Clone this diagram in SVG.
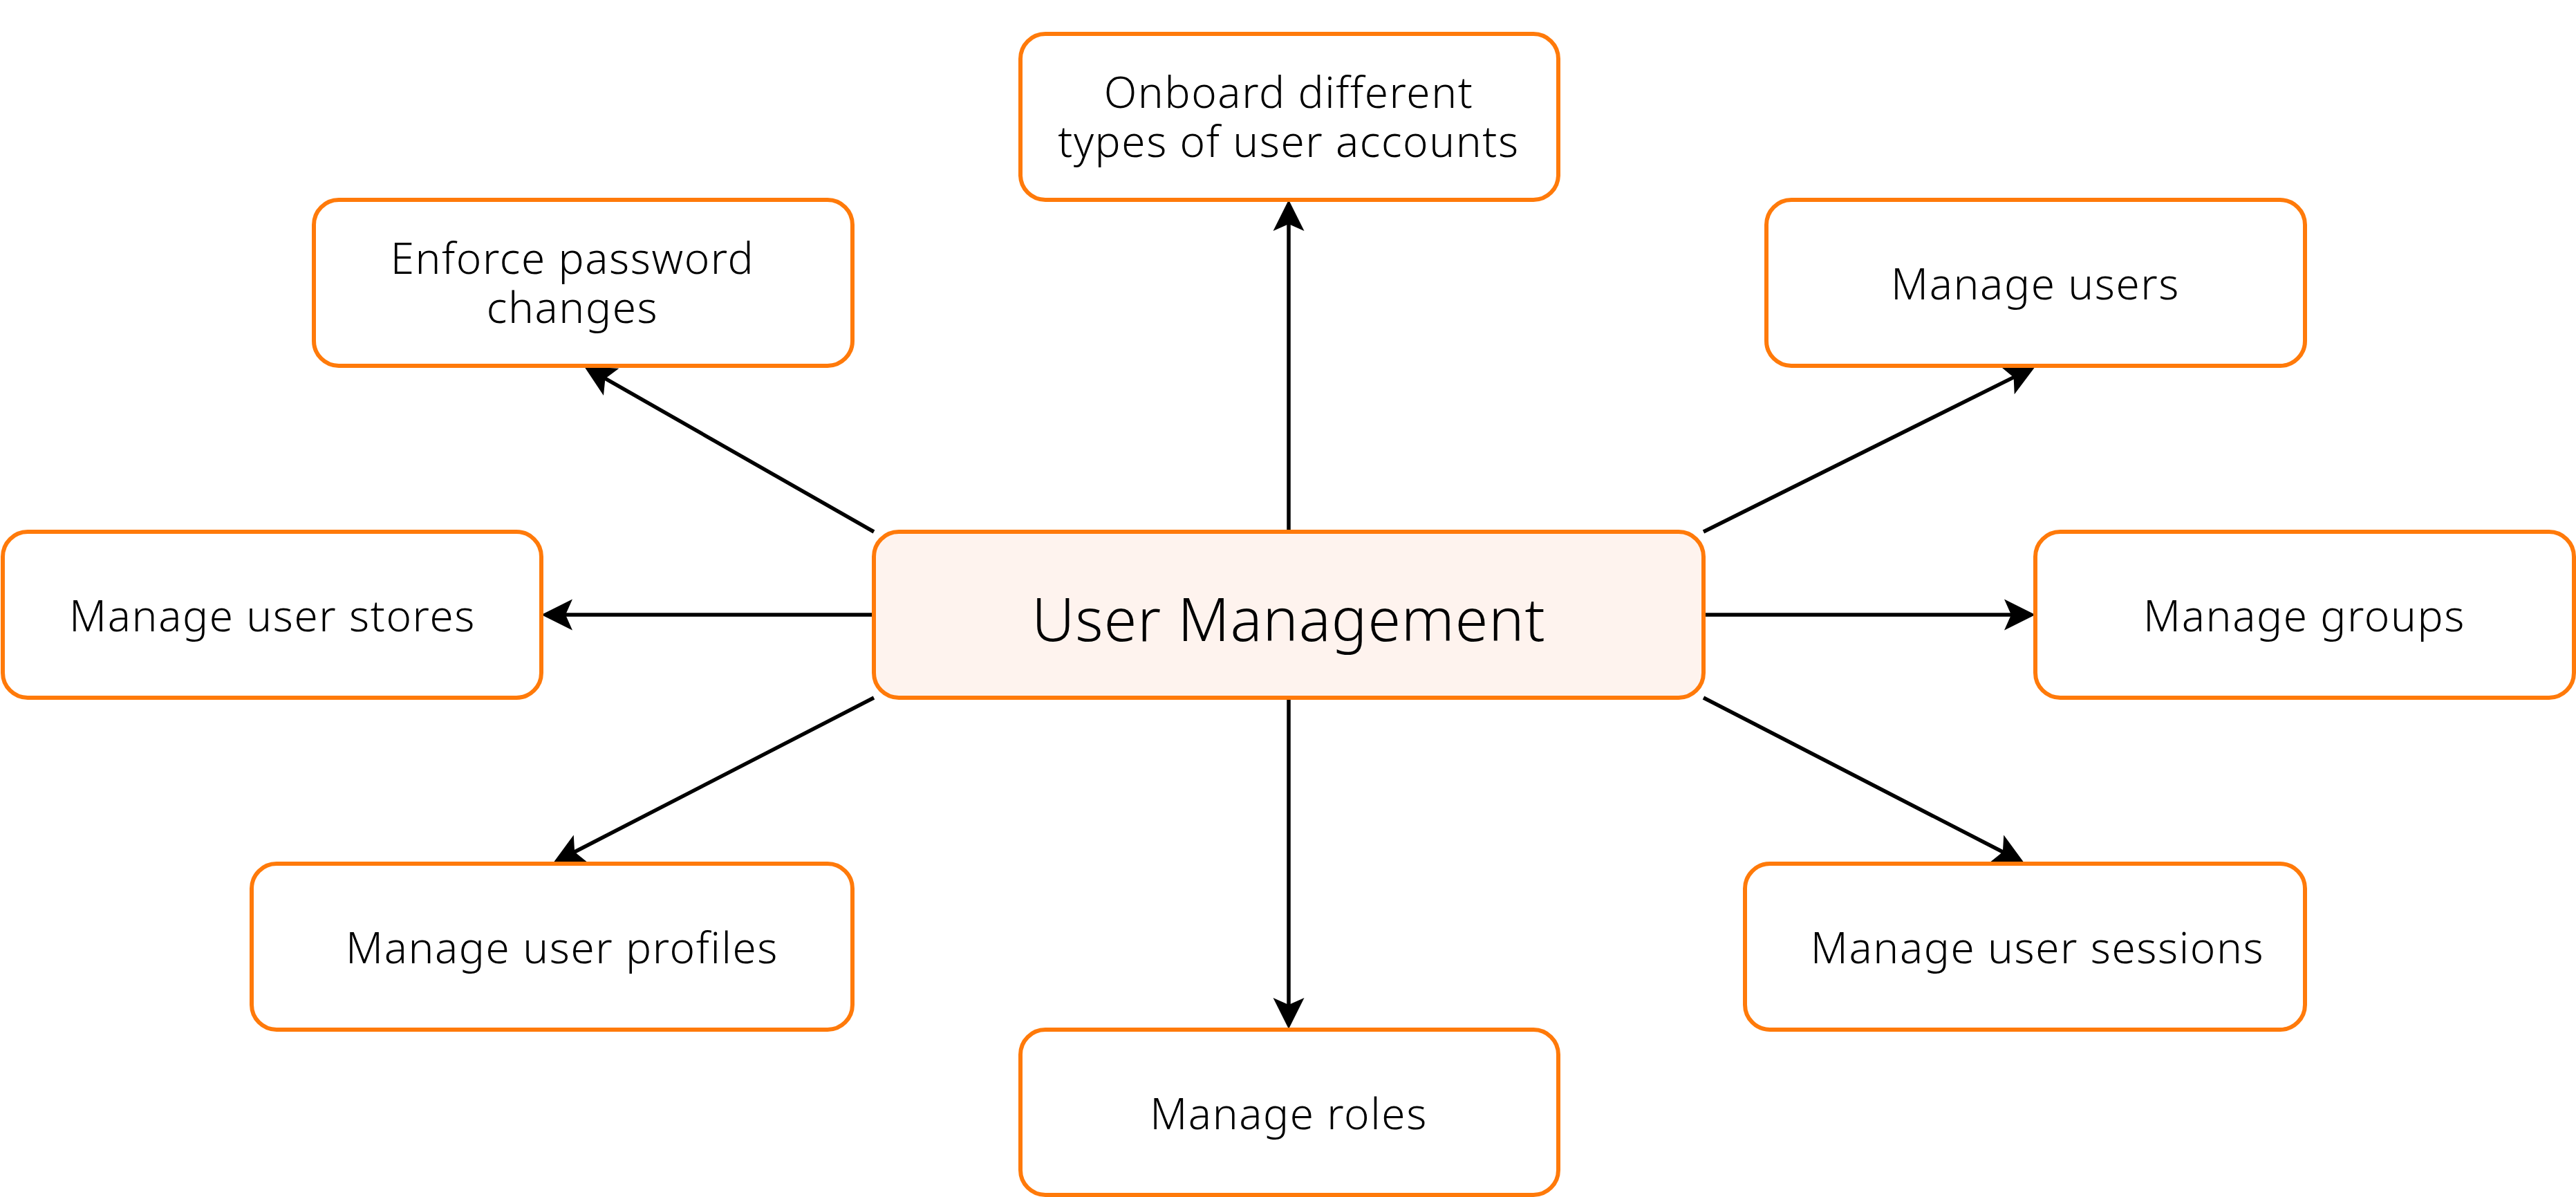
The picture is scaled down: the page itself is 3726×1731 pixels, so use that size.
<svg xmlns="http://www.w3.org/2000/svg" width="3726" height="1731" viewBox="0 0 3726 1731">
<style>
.box{fill:#ffffff;stroke:#ff7a0a;stroke-width:6}
.main{fill:#fef3ee}
.lbl{font-family:"Noto Sans","Liberation Sans",sans-serif;font-weight:300;font-size:62px;letter-spacing:1.6px;fill:#000;text-anchor:middle}
.big{font-size:86px;letter-spacing:1px}
.edge{stroke:#000;stroke-width:5.5;fill:none;marker-end:url(#arr)}
</style>
<defs>
<marker id="arr" markerUnits="userSpaceOnUse" viewBox="-20 -25 55 50" refX="0" refY="0" markerWidth="55" markerHeight="50" orient="auto">
<path d="M30,0 L-15,-22.5 L-5,0 L-15,22.5 Z" fill="#000"/>
</marker>
</defs>
<rect width="3726" height="1731" fill="#ffffff"/>
<g id="connectors">
<line class="edge" x1="1864" y1="769" x2="1864" y2="319"/>
<line class="edge" x1="1864" y1="1009" x2="1864" y2="1458"/>
<line class="edge" x1="1264" y1="889" x2="813" y2="889"/>
<line class="edge" x1="2464" y1="889" x2="2914" y2="889"/>
<line class="edge" x1="1264" y1="769" x2="871.1" y2="544.9"/>
<line class="edge" x1="2464" y1="769" x2="2917.1" y2="543.4"/>
<line class="edge" x1="1264" y1="1009" x2="826.7" y2="1234.3"/>
<line class="edge" x1="2464" y1="1009" x2="2901.3" y2="1234.3"/>
</g>
<g id="user-management">
<rect class="box main" x="1264" y="769" width="1200" height="240" rx="36"/>
<text class="lbl big" x="1864" y="927">User Management</text>
</g>
<g id="onboard">
<rect class="box" x="1476" y="49" width="778" height="240" rx="36"/>
<text class="lbl" x="1864" y="156">Onboard different<tspan x="1864" y="227">types of user accounts</tspan></text>
</g>
<g id="enforce-password">
<rect class="box" x="454" y="289" width="779" height="240" rx="36"/>
<text class="lbl" x="828" y="396">Enforce password<tspan x="828" y="467">changes</tspan></text>
</g>
<g id="manage-users">
<rect class="box" x="2555" y="289" width="779" height="240" rx="36"/>
<text class="lbl" x="2944" y="433">Manage users</text>
</g>
<g id="manage-user-stores">
<rect class="box" x="4" y="769" width="779" height="240" rx="36"/>
<text class="lbl" x="394" y="913">Manage user stores</text>
</g>
<g id="manage-groups">
<rect class="box" x="2944" y="769" width="779" height="240" rx="36"/>
<text class="lbl" x="3333" y="913">Manage groups</text>
</g>
<g id="manage-user-profiles">
<rect class="box" x="364" y="1249" width="869" height="240" rx="36"/>
<text class="lbl" x="813" y="1393">Manage user profiles</text>
</g>
<g id="manage-roles">
<rect class="box" x="1476" y="1489" width="778" height="239" rx="36"/>
<text class="lbl" x="1864" y="1633">Manage roles</text>
</g>
<g id="manage-user-sessions">
<rect class="box" x="2524" y="1249" width="810" height="240" rx="36"/>
<text class="lbl" x="2947" y="1393">Manage user sessions</text>
</g>
</svg>
